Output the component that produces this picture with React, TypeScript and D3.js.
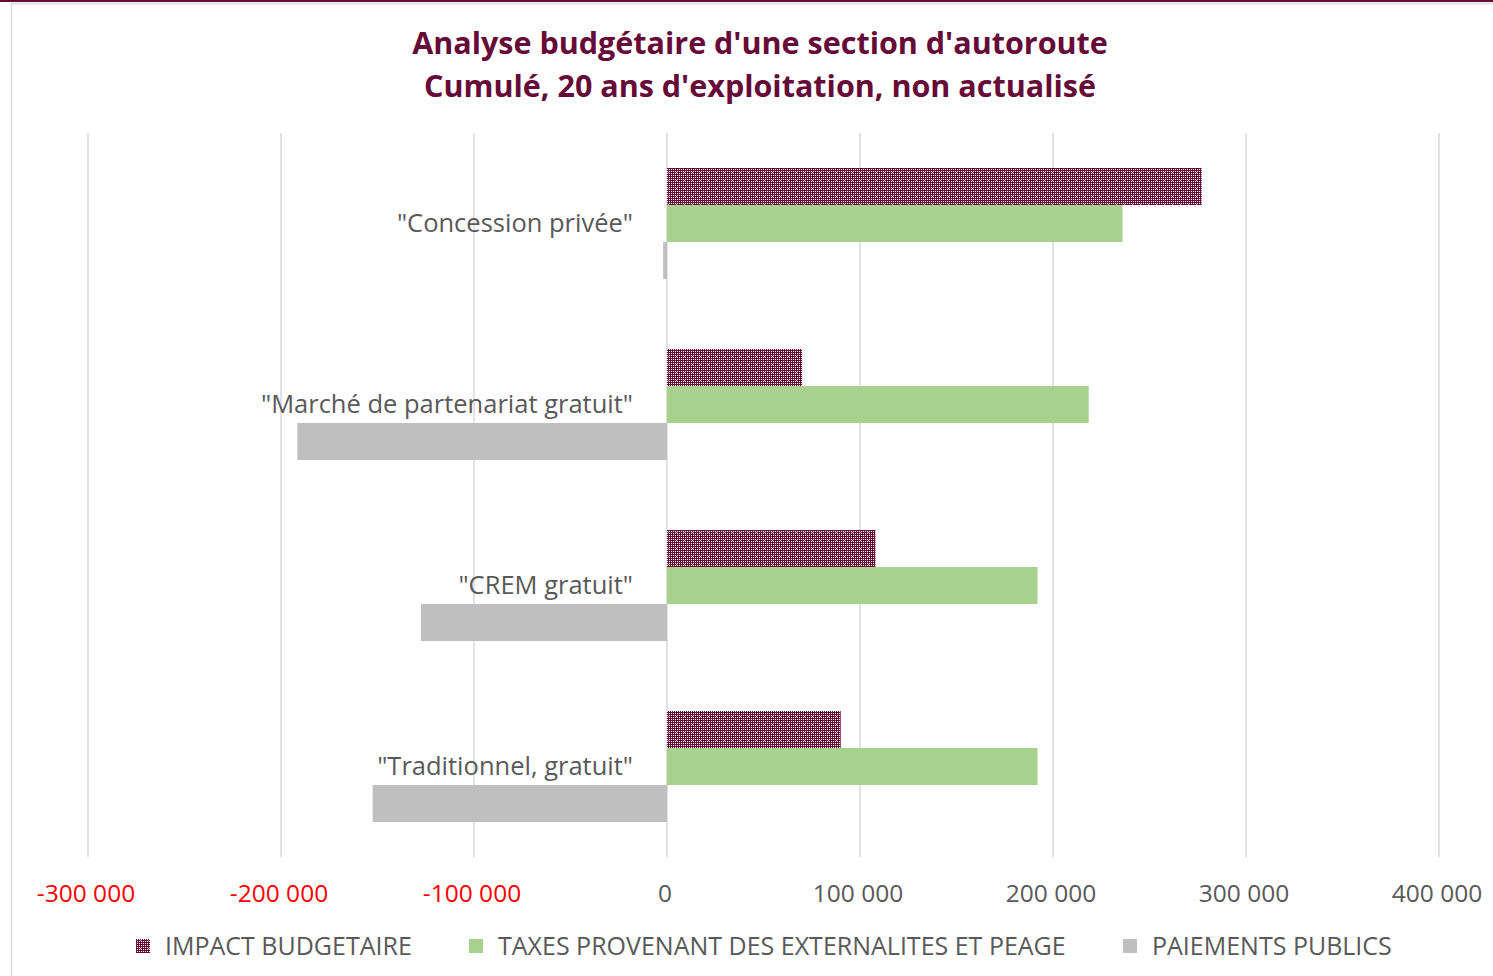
import React from "react";
import * as d3 from "d3";

const categories = ['"Concession privée"', '"Marché de partenariat gratuit"', '"CREM gratuit"', '"Traditionnel, gratuit"'];
const seriesNames = ["IMPACT BUDGETAIRE", "TAXES PROVENANT DES EXTERNALITES ET PEAGE", "PAIEMENTS PUBLICS"];
const impactBudgetaire = [277000, 70000, 108000, 90000];
const taxesPeage = [236000, 218500, 192000, 192000];
const paiementsPublics = [-2000, -191500, -127500, -152500];
const xTicks = [-300000, -200000, -100000, 0, 100000, 200000, 300000, 400000];
const titleLines = ["Analyse budgétaire d'une section d'autoroute", "Cumulé, 20 ans d'exploitation, non actualisé"];

const W = 1493;
const H = 976;
const MAROON = "#660A38";
const GREEN = "#A9D18E";
const GREY = "#BFBFBF";
const TEXT = "#595959";
const FONT = "'Open Sans', 'Liberation Sans', sans-serif";

export default function App() {
  const x = d3.scaleLinear().domain([-300000, 400000]).range([88, 1439]);
  const y = d3.scaleBand<string>().domain(categories).range([133, 857]);
  const inner = d3.scaleBand<number>().domain([0, 1, 2]).range([0, 111]);
  const barOffset = (y.bandwidth() - 111) / 2;
  const series = [impactBudgetaire, taxesPeage, paiementsPublics];
  const fills = ["url(#hatch)", GREEN, GREY];
  const fmt = (v: number) => {
    const s = d3.format(",")(Math.abs(v)).replace(/,/g, " ");
    return (v < 0 ? "-" : "") + s;
  };
  const legendX = [136, 469, 1123];
  const dots: [number, number, string][] = [];
  for (let i = 0; i < 8; i++) {
    for (let j = 0; j < 8; j++) {
      if (i % 2 === 1 && j % 2 === 1) dots.push([i, j, "#ffffff"]);
      else if ((i >= 3 && i <= 5 && j >= 3 && j <= 5) && (i + j) % 2 === 0) dots.push([i, j, "#d9a9bf"]);
    }
  }

  return (
    <div style={{ position: "absolute", left: 0, top: 0 }}>
      <svg width={W} height={H} style={{ display: "block", background: "#fff" }}>
        <defs>
          <pattern id="hatch" width={8} height={8} patternUnits="userSpaceOnUse">
            <rect width={8} height={8} fill={MAROON} />
            {dots.map(([i, j, c]) => (
              <rect key={`${i}-${j}`} x={i} y={j} width={1} height={1} fill={c} />
            ))}
          </pattern>
        </defs>
        <rect x={0} y={0} width={W} height={2} fill={MAROON} />
        <rect x={11.5} y={3.5} width={W} height={H} fill="#fff" stroke="#d9d9d9" strokeWidth={1.5} />
        {titleLines.map((t, i) => (
          <text key={i} x={760} y={54 + i * 43} textAnchor="middle" fill={MAROON}
            fontFamily={FONT} fontWeight={700} fontSize={30.5}>{t}</text>
        ))}
        {xTicks.map((t) => (
          <line key={t} x1={x(t)} x2={x(t)} y1={133} y2={857} stroke="#d9d9d9" strokeWidth={1.5} />
        ))}
        {categories.map((c, ci) => (
          <g key={c}>
            {series.map((s, si) => {
              const v = s[ci];
              const x0 = x(Math.min(0, v));
              const x1 = x(Math.max(0, v));
              return (
                <rect key={si} x={x0} width={x1 - x0}
                  y={(y(c) as number) + barOffset + (inner(si) as number)}
                  height={inner.bandwidth()} fill={fills[si]} />
              );
            })}
          </g>
        ))}
        {categories.map((c) => (
          <text key={c} x={633} y={(y(c) as number) + y.bandwidth() / 2} dy="0.35em" textAnchor="end"
            fill={TEXT} fontFamily={FONT} fontSize={25.5}>{c}</text>
        ))}
        {xTicks.map((t) => (
          <text key={t} x={x(t) - 2} y={902} textAnchor="middle" fill={t < 0 ? "#FF0000" : TEXT}
            fontFamily={FONT} fontSize={24.5}>{fmt(t)}</text>
        ))}
        {seriesNames.map((n, i) => (
          <g key={n}>
            <rect x={legendX[i]} y={939} width={14} height={14} fill={fills[i]} />
            <text x={legendX[i] + 29} y={955} fill={TEXT} fontFamily={FONT} fontSize={25}>{n}</text>
          </g>
        ))}
      </svg>
    </div>
  );
}
